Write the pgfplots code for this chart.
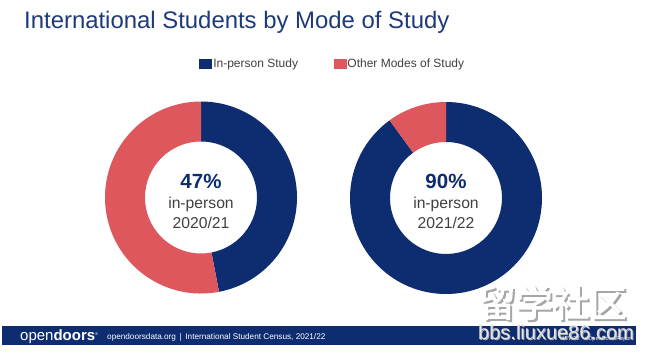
\documentclass[border=0pt]{standalone}
\usepackage{pgfplots}
\pgfplotsset{compat=1.18}
\usepackage{pgfplotstable}
\usepackage{fontspec}
\setmainfont{Liberation Sans}
\newfontfamily\cjk[AutoFakeBold=2.5]{Noto Sans CJK SC}
\definecolor{odblue}{RGB}{14,45,113}
\definecolor{titleblue}{RGB}{30,58,122}
\definecolor{odred}{RGB}{221,87,93}
\definecolor{textgray}{RGB}{64,64,64}

\pgfplotstableread{
x y start value meta
0 0 0 47 0
0 0 47 53 1
}\yearA
\pgfplotstableread{
x y start value meta
0 0 0 90 0
0 0 90 10 1
}\yearB

\pgfplotsset{
  donutaxis/.style={
    width=192bp, height=192bp, scale only axis,
    xmin=-1, xmax=1, ymin=-1, ymax=1,
    axis lines=none, ticks=none, clip=false, anchor=origin,
    colormap={od}{color(0)=(odblue) color(1)=(odred)},
    point meta min=0, point meta max=1,
  },
  donut/.style={
    scatter, only marks, mark=*, mark size=0pt,
    mark options={draw=none, fill=none},
    point meta=explicit,
    visualization depends on={\thisrow{start} \as \dstart},
    visualization depends on={\thisrow{value} \as \dval},
    scatter/@pre marker code/.code={%
      \pgfplotscolormapdefinemappedcolor{\pgfplotspointmetatransformed}%
      \pgfmathsetmacro\aA{90-3.6*\dstart}%
      \pgfmathsetmacro\aB{90-3.6*(\dstart+\dval)}%
      \path[fill=mapped color, fill opacity=1, draw=none] (\aA:96bp) arc[start angle=\aA, end angle=\aB, radius=96bp]
        -- (\aB:56bp) arc[start angle=\aB, end angle=\aA, radius=56bp] -- cycle;
    },
    scatter/@post marker code/.code={},
  },
}

\begin{document}
\begin{tikzpicture}[x=1bp,y=1bp]
\useasboundingbox[fill=white] (0,0) rectangle (647,352);

% title
\node[anchor=base west, inner sep=0, text=titleblue, font=\fontsize{23.9bp}{28bp}\selectfont]
  at (24,{352-28.5}) {International Students by Mode of Study};

% left donut
\begin{axis}[donutaxis, at={(201bp,154.5bp)},
  legend columns=2,
  legend style={at={(1.185,1.195)}, anchor=center, draw=none, fill=none,
    font=\fontsize{12bp}{14bp}\selectfont, text=textgray,
    nodes={inner sep=1.5bp},
    /tikz/every even column/.append style={column sep=34bp}},
  legend cell align=left]
\addlegendimage{legend image code/.code={\fill[odblue] (0bp,-4.5bp) rectangle (12bp,5bp);}}
\addlegendentry{In-person Study}
\addlegendimage{legend image code/.code={\fill[odred] (0bp,-4.5bp) rectangle (12bp,5bp);}}
\addlegendentry{Other Modes of Study}
\addplot[donut] table[x=x, y=y, meta=meta]{\yearA};
\end{axis}

% right donut
\begin{axis}[donutaxis, at={(446bp,154bp)}]
\addplot[donut] table[x=x, y=y, meta=meta]{\yearB};
\end{axis}

% centre labels
\node[anchor=base, inner sep=0, text=odblue, font=\fontsize{20.5bp}{24bp}\selectfont\bfseries] at (201,{352-188}) {47\%};
\node[anchor=base, inner sep=0, text=textgray, font=\fontsize{15.7bp}{18bp}\selectfont] at (201,{352-208.5}) {in-person};
\node[anchor=base, inner sep=0, text=textgray, font=\fontsize{15.7bp}{18bp}\selectfont] at (201,{352-228}) {2020/21};
\node[anchor=base, inner sep=0, text=odblue, font=\fontsize{20.5bp}{24bp}\selectfont\bfseries] at (446,{352-188}) {90\%};
\node[anchor=base, inner sep=0, text=textgray, font=\fontsize{15.7bp}{18bp}\selectfont] at (446,{352-208.5}) {in-person};
\node[anchor=base, inner sep=0, text=textgray, font=\fontsize{15.7bp}{18bp}\selectfont] at (446,{352-228}) {2021/22};

% footer bar
\fill[odblue] (2,{352-345}) rectangle (636,{352-326});
\node[anchor=base west, inner sep=0, text=white, font=\fontsize{15bp}{16bp}\selectfont]
  at (20,{352-340}) {open\textbf{doors}\raisebox{5bp}{\fontsize{4bp}{4bp}\selectfont\textregistered}};
\node[anchor=base west, inner sep=0, text=white, font=\fontsize{8.2bp}{10bp}\selectfont]
  at (107,{352-339}) {opendoorsdata.org \,|\, International Student Census, 2021/22};
\node[anchor=base east, inner sep=0, text=white, font=\fontsize{5.5bp}{6bp}\selectfont]
  at (633,{352-340}) {\#IEW22\quad \#OpenDoorsReport};

% watermark
\node[anchor=center, inner sep=0, text=gray!70, font=\fontsize{37bp}{40bp}\cjk\bfseries] at (554.5,{352-304.5}) {留学社区};
\node[anchor=center, inner sep=0, text=white, font=\fontsize{37bp}{40bp}\cjk\bfseries] at (552.5,{352-302.5}) {留学社区};
\node[anchor=base west, inner sep=0, text=gray!60, font=\fontsize{20bp}{22bp}\selectfont] at (479,{352-340.5}) {bbs.liuxue86.com};
\node[anchor=base west, inner sep=0, text=gray!20, font=\fontsize{20bp}{22bp}\selectfont] at (478,{352-339.5}) {bbs.liuxue86.com};
\end{tikzpicture}
\end{document}
